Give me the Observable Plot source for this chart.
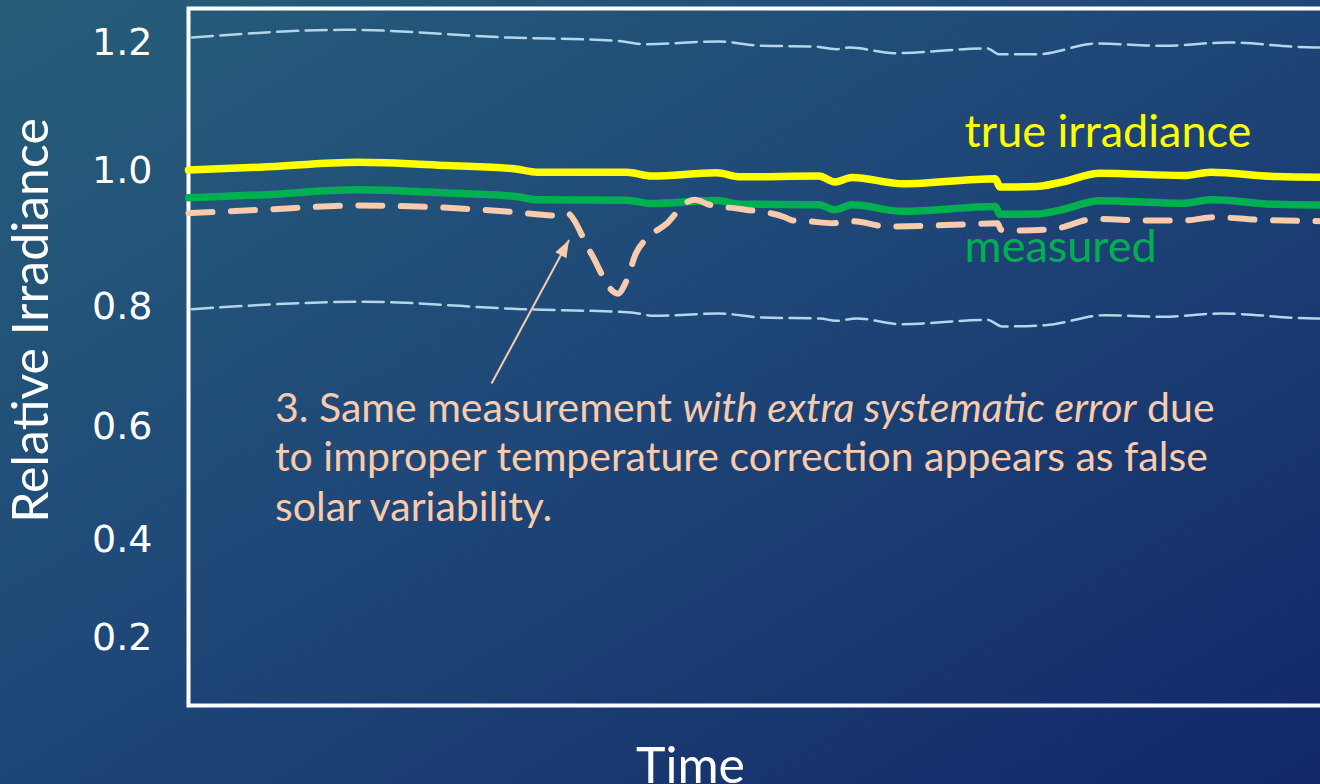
<!DOCTYPE html>
<html>
<head>
<meta charset="utf-8">
<script src="https://cdn.jsdelivr.net/npm/d3@7"></script>
<script src="https://cdn.jsdelivr.net/npm/@observablehq/plot@0.6"></script>
<style>
  html, body { margin: 0; padding: 0; }
  body {
    width: 1320px; height: 784px; overflow: hidden;
    background: linear-gradient(to bottom right, #265e79 0%, #1f4878 45%, #122868 100%);
  }
  #chart svg { display: block; }
</style>
</head>
<body>
<div id="chart"></div>
<script>
// ---- axis ----
const yTicks = [0.2, 0.4, 0.6, 0.8, 1.0, 1.2];

// ---- series (time in arbitrary units 0..100, relative irradiance) ----
const trueTime  = [0, 6.3, 14.9, 22.8, 28.6, 30.7, 38.5, 40.7, 46.4, 48.5, 55.4, 56.8, 58.3, 62.8, 70.9, 71.3, 74.5, 76.6, 80.1, 87.5, 89.8, 95.6, 100];
const trueValue = [1.0008, 1.0052, 1.013, 1.0078, 1.0027, 0.9975, 0.9975, 0.9919, 0.9966, 0.9907, 0.9919, 0.9831, 0.9897, 0.9804, 0.9878, 0.9757, 0.9765, 0.9824, 0.996, 0.9926, 0.9975, 0.9912, 0.9901];

const measuredTime  = [0, 6.3, 14.9, 22.8, 28.6, 30.7, 38.5, 40.7, 46.4, 48.5, 55.4, 56.8, 58.3, 62.8, 70.9, 71.3, 74.5, 76.6, 80.1, 87.5, 89.8, 95.6, 100];
const measuredValue = [0.9598, 0.9641, 0.9716, 0.9668, 0.9620, 0.9569, 0.9564, 0.9515, 0.9559, 0.9505, 0.9498, 0.9423, 0.9495, 0.9399, 0.9471, 0.9356, 0.9360, 0.9418, 0.9556, 0.9519, 0.9569, 0.9502, 0.9490];

const errorTime  = [0, 6.3, 15.0, 22.8, 28.6, 32.2, 33.2, 35.3, 37.4, 37.7, 38.5, 39.3, 40.4, 42.0, 43.8, 44.5, 45.7, 48.5, 52.4, 53.1, 54.4, 56.6, 58.3, 61.5, 68.0, 71.1, 71.4, 73.2, 76.1, 79.7, 84.3, 87.5, 90.1, 94.0, 100];
const errorValue = [0.9372, 0.9422, 0.9485, 0.9451, 0.9387, 0.9338, 0.9375, 0.8804, 0.8210, 0.8187, 0.8382, 0.8775, 0.9019, 0.9216, 0.9534, 0.9569, 0.9500, 0.9434, 0.9313, 0.9265, 0.9254, 0.9225, 0.9254, 0.9176, 0.9206, 0.9225, 0.9128, 0.9118, 0.9143, 0.9290, 0.9265, 0.9265, 0.9313, 0.9275, 0.9254];

const upperTime  = [0.3, 14.0, 28.0, 37.6, 40.2, 46.6, 50.4, 54.9, 56.9, 58.1, 62.0, 70.2, 71.2, 74.7, 79.8, 85.6, 91.3, 99.0, 100];
const upperValue = [1.2078, 1.2198, 1.2078, 1.2027, 1.1973, 1.2016, 1.1948, 1.1938, 1.1895, 1.1922, 1.1833, 1.1906, 1.1817, 1.1817, 1.1984, 1.1948, 1.2000, 1.1922, 1.1922];

const lowerTime  = [0.3, 15.3, 29.3, 38.9, 40.9, 46.6, 50.4, 55.5, 56.9, 58.7, 62.6, 70.2, 71.5, 75.3, 80.5, 85.6, 90.7, 99.0, 100];
const lowerValue = [0.7955, 0.8069, 0.7955, 0.7900, 0.7845, 0.7883, 0.7817, 0.7800, 0.7762, 0.7800, 0.7705, 0.7778, 0.7667, 0.7688, 0.7855, 0.7828, 0.7883, 0.7800, 0.7800];

// ---- annotations ----
const labelTrue = {text: "true irradiance", t: 68.2, v: 1.0863};
const labelMeasured = {text: "measured", t: 68.2, v: 0.9121};
const noteLine1Parts = ["3. Same measurement ", "with extra systematic error", " due"];
const noteLines = [noteLine1Parts.join(""), "to improper temperature correction appears as false", "solar variability."];
const note = {t: 7.6, v: 0.6667};
const arrowLink = {t1: 26.63, v1: 0.6717, t2: 33.44, v2: 0.8978};

const yAxisTitle = "Relative Irradiance";
const xAxisTitle = "Time";

// ---- colors ----
const cTrue = "#ffff00", cMeasured = "#00b050", cError = "#f8cbad", cBound = "#b4d6ea";

const rows = (ts, vs) => ts.map((t, i) => ({t, v: vs[i]}));

const chart = Plot.plot({
  width: 1320,
  height: 784,
  marginLeft: 188,
  marginRight: -6,
  marginTop: 8,
  marginBottom: 79,
  style: {background: "transparent", color: "white", fontFamily: "Lato, sans-serif"},
  x: {domain: [0, 100], axis: null},
  // piecewise scale: the tick labels of the original are unevenly spaced
  y: {type: "linear", domain: yTicks, range: [637, 539, 426, 306, 170, 42]},
  marks: [
    Plot.frame({stroke: "white", strokeWidth: 4}),
    Plot.axisY({ticks: yTicks, tickSize: 0, tickPadding: 36, tickFormat: d3.format(".1f"),
      fontSize: 38, fontFamily: "DejaVu Sans", label: null}),
    Plot.line(rows(upperTime, upperValue), {x: "t", y: "v", stroke: cBound, strokeWidth: 2.5, strokeDasharray: "21 7.5", curve: "monotone-x"}),
    Plot.line(rows(lowerTime, lowerValue), {x: "t", y: "v", stroke: cBound, strokeWidth: 2.5, strokeDasharray: "21 7.5", curve: "monotone-x"}),
    Plot.line(rows(measuredTime, measuredValue), {x: "t", y: "v", stroke: cMeasured, strokeWidth: 7.5, curve: "monotone-x"}),
    Plot.line(rows(errorTime, errorValue), {x: "t", y: "v", stroke: cError, strokeWidth: 6, strokeDasharray: "24 18.5", curve: "monotone-x"}),
    Plot.line(rows(trueTime, trueValue), {x: "t", y: "v", stroke: cTrue, strokeWidth: 7.5, curve: "monotone-x"}),
    Plot.link([arrowLink], {x1: "t1", y1: "v1", x2: "t2", y2: "v2", stroke: cError, strokeWidth: 2, markerEnd: "arrow"}),
    Plot.text([labelTrue], {x: "t", y: "v", text: "text", fill: cTrue, fontSize: 45, textAnchor: "start", lineAnchor: "top"}),
    Plot.text([labelMeasured], {x: "t", y: "v", text: "text", fill: cMeasured, fontSize: 45, textAnchor: "start", lineAnchor: "top"}),
    Plot.text([note], {x: "t", y: "v", text: () => noteLines.join("\n"), fill: cError, fontSize: 41, lineHeight: 1.21, textAnchor: "start", lineAnchor: "top"}),
    Plot.text([yAxisTitle], {frameAnchor: "left", text: d => d, textAnchor: "middle", lineAnchor: "middle", rotate: -90, dx: -157, dy: -36.5, fontSize: 50, fill: "white"}),
    Plot.text([xAxisTitle], {frameAnchor: "bottom", text: d => d, textAnchor: "middle", lineAnchor: "top", dx: -67, dy: 42, fontSize: 50, fill: "white"})
  ]
});

// italic part of the first note line
chart.querySelectorAll("tspan, text").forEach(el => {
  if (el.children.length === 0 && el.textContent === noteLines[0]) {
    el.textContent = "";
    noteLine1Parts.forEach((part, i) => {
      const s = document.createElementNS("http://www.w3.org/2000/svg", "tspan");
      if (i === 1) s.setAttribute("font-style", "italic");
      s.textContent = part;
      el.appendChild(s);
    });
  }
});

// filled arrowhead
const marker = chart.querySelector("marker");
if (marker) {
  marker.setAttribute("viewBox", "-12 -5 12 10");
  marker.setAttribute("markerUnits", "userSpaceOnUse");
  marker.setAttribute("markerWidth", "18");
  marker.setAttribute("markerHeight", "15");
  marker.setAttribute("refX", "0");
  marker.setAttribute("refY", "0");
  while (marker.firstChild) marker.removeChild(marker.firstChild);
  const p = document.createElementNS("http://www.w3.org/2000/svg", "path");
  p.setAttribute("d", "M-11.5,-4.2L0,0L-11.5,4.2Z");
  p.setAttribute("fill", cError);
  p.setAttribute("stroke", "none");
  marker.appendChild(p);
}

document.getElementById("chart").appendChild(chart);
</script>
</body>
</html>
